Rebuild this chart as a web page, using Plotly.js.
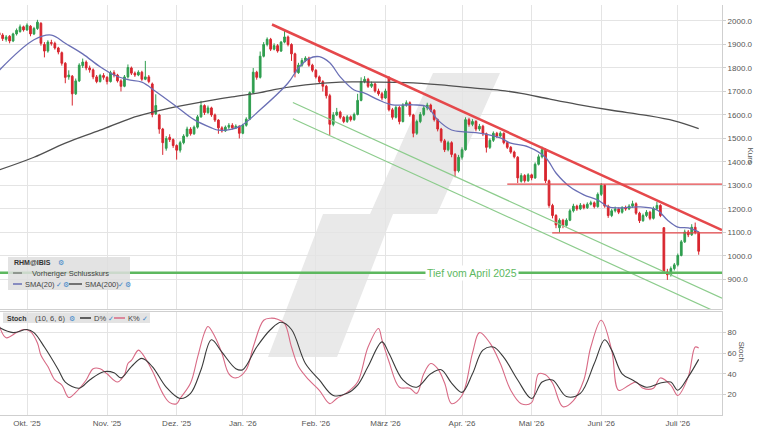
<!DOCTYPE html>
<html>
<head>
<meta charset="utf-8">
<script src="https://cdn.plot.ly/plotly-3.0.1.min.js"></script>
<style>
  html, body { margin: 0; padding: 0; background: #fff; }
  #chart { width: 768px; height: 432px; }
</style>
</head>
<body>
<div id="chart"></div>
<script>
// daily candles, index 0 = 19.09.2025 (Xetra trading days)
const open = [
  1950,1940,1922,1935,1915,1945,1955,1975,1962,1978,
  1945,1968,1990,1900,1872,1908,1905,1885,1865,1820,
  1762,1765,1690,1745,1810,1825,1800,1792,1762,1742,
  1768,1760,1742,1780,1770,1745,1722,1762,1800,1778,
  1770,1782,1752,1762,1732,1605,1600,1540,1458,1505,
  1495,1470,1450,1482,1510,1540,1520,1548,1592,1640,
  1610,1630,1600,1578,1545,1532,1548,1556,1545,1552,
  1522,1556,1582,1695,1782,1760,1850,1900,1922,1880,
  1895,1872,1910,1932,1900,1860,1780,1812,1832,1842,
  1812,1790,1762,1742,1722,1682,1560,1600,1612,1590,
  1572,1592,1580,1602,1662,1742,1752,1722,1732,1702,
  1690,1672,1760,1622,1590,1632,1572,1642,1652,1600,
  1522,1572,1602,1630,1642,1620,1580,1540,1490,1452,
  1482,1432,1362,1420,1452,1580,1560,1572,1540,1552,
  1520,1462,1492,1522,1510,1522,1482,1462,1442,1420,
  1318,1342,1320,1345,1332,1390,1422,1452,1320,1215,
  1172,1120,1152,1130,1152,1192,1212,1200,1216,1205,
  1220,1226,1210,1262,1300,1212,1172,1192,1200,1186,
  1205,1200,1212,1222,1182,1150,1172,1186,1160,1202,
  1215,1120,932,920,946,962,1002,1060,1102,1090,
  1122,1100
];
const close = [
  1940,1925,1932,1915,1945,1960,1975,1962,1982,1945,
  1968,1995,1905,1872,1910,1905,1885,1868,1820,1760,
  1770,1690,1745,1812,1825,1800,1792,1762,1742,1768,
  1760,1742,1780,1770,1745,1722,1762,1802,1778,1770,
  1782,1752,1762,1742,1602,1640,1540,1482,1500,1495,
  1470,1450,1482,1510,1540,1520,1548,1592,1640,1610,
  1630,1600,1578,1545,1532,1548,1556,1545,1552,1522,
  1556,1582,1695,1782,1760,1850,1900,1922,1880,1895,
  1872,1910,1932,1900,1860,1780,1812,1832,1842,1812,
  1790,1762,1742,1722,1682,1560,1600,1612,1590,1572,
  1592,1580,1602,1662,1742,1752,1722,1732,1702,1690,
  1672,1702,1622,1590,1632,1572,1642,1652,1600,1522,
  1572,1602,1630,1642,1620,1580,1540,1490,1452,1482,
  1432,1362,1420,1452,1580,1560,1572,1540,1552,1520,
  1462,1492,1522,1510,1522,1482,1462,1442,1422,1332,
  1342,1320,1345,1332,1390,1422,1452,1320,1215,1172,
  1132,1152,1130,1152,1192,1212,1200,1216,1205,1220,
  1226,1210,1262,1300,1212,1172,1192,1200,1186,1205,
  1200,1212,1222,1182,1150,1172,1186,1160,1202,1215,
  1172,932,920,946,962,1002,1060,1102,1090,1122,
  1100,1020
];
const high = [
  1962,1948,1940,1940,1950,1968,1985,1980,1990,1982,
  1975,2005,1995,1910,1918,1920,1912,1890,1870,1825,
  1790,1770,1755,1820,1840,1832,1810,1798,1770,1775,
  1778,1765,1788,1790,1775,1752,1770,1815,1806,1785,
  1790,1788,1830,1770,1738,1688,1605,1545,1510,1518,
  1500,1475,1490,1518,1550,1548,1555,1600,1660,1645,
  1640,1635,1606,1582,1552,1555,1565,1565,1560,1556,
  1562,1590,1700,1800,1788,1870,1910,1930,1928,1905,
  1902,1915,1960,1938,1905,1865,1822,1842,1850,1848,
  1818,1795,1768,1748,1728,1690,1612,1630,1618,1596,
  1600,1598,1610,1690,1760,1765,1758,1742,1738,1712,
  1698,1712,1765,1630,1640,1638,1650,1662,1658,1605,
  1580,1612,1640,1652,1648,1625,1585,1545,1498,1490,
  1488,1438,1430,1462,1590,1588,1582,1578,1562,1558,
  1525,1500,1530,1528,1530,1526,1488,1468,1448,1425,
  1352,1348,1352,1350,1398,1432,1465,1458,1325,1222,
  1178,1160,1158,1160,1200,1222,1218,1225,1222,1228,
  1235,1232,1270,1310,1305,1218,1200,1210,1206,1212,
  1214,1220,1235,1228,1188,1180,1195,1192,1210,1230,
  1220,1122,945,955,970,1010,1068,1112,1110,1135,
  1142,1105
];
const low = [
  1930,1915,1912,1905,1910,1938,1950,1955,1958,1935,
  1940,1962,1895,1845,1865,1895,1878,1858,1810,1735,
  1750,1640,1685,1740,1800,1790,1780,1752,1735,1738,
  1750,1730,1738,1760,1738,1700,1718,1755,1770,1762,
  1765,1745,1748,1735,1590,1600,1520,1430,1448,1485,
  1460,1410,1440,1475,1505,1512,1515,1542,1588,1600,
  1605,1592,1570,1520,1525,1528,1540,1538,1540,1500,
  1518,1550,1578,1690,1750,1755,1845,1892,1872,1875,
  1865,1868,1905,1892,1830,1760,1775,1805,1825,1805,
  1782,1755,1735,1700,1670,1515,1552,1595,1582,1565,
  1566,1572,1575,1598,1658,1735,1715,1715,1695,1682,
  1662,1668,1615,1580,1585,1560,1568,1635,1592,1505,
  1515,1565,1595,1620,1612,1572,1530,1482,1442,1445,
  1420,1335,1355,1410,1448,1550,1552,1530,1532,1510,
  1440,1455,1485,1502,1505,1475,1455,1435,1415,1310,
  1312,1312,1315,1322,1328,1385,1415,1310,1205,1160,
  1118,1100,1118,1125,1148,1185,1192,1195,1198,1200,
  1215,1202,1205,1255,1205,1162,1165,1185,1178,1180,
  1192,1195,1205,1175,1140,1145,1165,1152,1155,1195,
  1165,925,898,912,938,955,998,1055,1080,1085,
  1092,1005
];
const days = close.map((c, i) => i);

// moving averages (day index, value)
const sma20Idx = [0,10,15,19,24,29,33,37,41,45,51,56,61,63,69,75,83,86,89,92,95,98,102,105,109,113,119,123,126,130,134,138,144,147,152,157,160,164,168,172,175,178,184,189,192,195,198,201];
const sma20Val = [1790,1920,1940,1905,1860,1805,1770,1750,1740,1700,1635,1580,1545,1535,1550,1622,1736,1800,1840,1848,1822,1762,1706,1693,1664,1643,1643,1634,1579,1536,1528,1523,1502,1480,1464,1419,1353,1294,1260,1238,1209,1204,1209,1196,1153,1123,1119,1102];
const sma200Idx = [0,10,19,29,38,43,51,58,67,75,79,88,98,107,117,127,136,144,150,158,166,176,186,194,201];
const sma200Val = [1366,1420,1480,1535,1587,1608,1635,1655,1677,1695,1708,1728,1740,1740,1738,1728,1715,1705,1692,1668,1645,1620,1598,1575,1542];

// stochastic (10, 6, 6)
const kIdx = [0,2,5,7,9,11,12,14,16,18,20,22,25,27,29,31,34,36,37,38,40,41,44,47,49,51,52,55,57,59,60,62,64,66,68,71,73,76,78,80,82,84,86,89,92,95,97,100,103,106,109,110,112,115,118,120,122,124,126,128,130,133,136,138,141,144,147,150,153,155,157,159,162,165,168,170,173,176,178,181,183,185,188,190,193,195,198,200,201];
const kVal = [87,75,80,83,81,70,58,47,34,29,17,22,34,45,45,40,32,39,50,53,63,60,43,21,12,11,16,31,56,80,86,76,60,40,36,44,66,92,94,93,89,66,47,34,24,11,16,22,32,66,84,73,52,27,26,21,40,50,45,31,11,19,60,80,70,50,24,11,12,40,39,31,8,14,34,66,92,63,24,29,32,26,26,36,29,19,37,66,65];
const dIdx = [0,4,8,10,13,17,19,23,26,30,33,35,38,41,44,48,52,55,58,61,64,68,70,74,78,81,84,88,92,96,100,103,106,110,112,116,120,124,127,130,133,136,139,142,145,149,153,156,159,163,167,171,174,176,179,182,186,190,193,195,198,201];
const dVal = [85,80,83,80,66,44,32,26,34,42,41,36,47,55,47,27,16,21,44,73,61,45,44,66,83,90,83,50,34,19,21,29,47,71,60,34,27,40,44,31,22,40,63,66,56,34,16,32,34,18,21,50,73,63,40,34,27,31,32,24,37,54];

// drawn lines: trend, channel, support / resistance
const trendX = [78.4, 207.7];
const trendY = [1985, 1110];
const chanTopX = [84.4, 207.7];
const chanTopY = [1653, 820];
const chanLowX = [84.4, 207.7];
const chanLowY = [1584, 750];
const resist1300X = [146, 207.7];
const resist1300Y = [1306, 1306];
const resist1100X = [158.9, 207.7];
const resist1100Y = [1098, 1098];
const supportX = [-2, 210];
const supportY = [928, 928];

const monthIdx = [8, 31, 51, 70, 91, 111, 133, 153, 173, 195];
const monthText = ["Okt. '25", "Nov. '25", "Dez. '25", "Jan. '26", "Feb. '26", "März '26", "Apr. '26", "Mai '26", "Juni '26", "Juli '26"];
const priceTicks = [900, 1000, 1100, 1200, 1300, 1400, 1500, 1600, 1700, 1800, 1900, 2000];
const stochTicks = [20, 40, 60, 80];

// pixel -> paper helpers for the decorations
const W = 722, H = 410;
const px = x => x / W;
const py = y => (415 - y) / H;

const GREEN = '#2f9e4f', RED = '#d8262f';
const line = (x, y, color, width, xa, ya, shape) => ({
  type: 'scatter', mode: 'lines', x: x, y: y, xaxis: xa || 'x', yaxis: ya || 'y',
  line: {color: color, width: width, shape: shape || 'linear'}, hoverinfo: 'skip'
});

const data = [
  {
    type: 'candlestick', x: days, open: open, high: high, low: low, close: close,
    xaxis: 'x', yaxis: 'y', whiskerwidth: 0,
    increasing: {line: {color: GREEN, width: 1}, fillcolor: GREEN},
    decreasing: {line: {color: RED, width: 1}, fillcolor: RED},
    hoverinfo: 'skip'
  },
  line(sma200Idx, sma200Val, '#505050', 1.3, 'x', 'y', 'spline'),
  line(sma20Idx, sma20Val, '#6a6fb5', 1.3, 'x', 'y', 'spline'),
  line(chanTopX, chanTopY, '#8ccc8c', 1.2),
  line(chanLowX, chanLowY, '#8ccc8c', 1.2),
  line(resist1300X, resist1300Y, '#e3474a', 1.2),
  line(resist1100X, resist1100Y, '#e3474a', 1.2),
  line(supportX, supportY, '#5db85f', 2.5),
  line(trendX, trendY, '#e5484b', 2.5),
  line(kIdx, kVal, '#d86a85', 1.1, 'x2', 'y2', 'spline'),
  line(dIdx, dVal, '#3a3a3a', 1.1, 'x2', 'y2', 'spline')
];

const wm = [[433,73],[500,73],[437,214],[393,214],[337,357],[268,357],[323,214],[370,214]];
const wmPath = 'M ' + wm.map(p => px(p[0]).toFixed(4) + ',' + py(p[1]).toFixed(4)).join(' L ') + ' Z';

const seg = (x0, x1, y, color, width, dash) => ({
  type: 'line', xref: 'paper', yref: 'paper', x0: px(x0), x1: px(x1), y0: py(y), y1: py(y),
  line: {color: color, width: width, dash: dash || 'solid'}
});
const box = (x0, y0, x1, y1) => ({
  type: 'rect', xref: 'paper', yref: 'paper', x0: px(x0), x1: px(x1), y0: py(y1), y1: py(y0),
  fillcolor: 'rgba(222,222,222,0.85)', line: {width: 0}
});

const shapes = [
  {type: 'path', xref: 'paper', yref: 'paper', path: wmPath, fillcolor: '#e9e9e9', line: {width: 0}, layer: 'below'},
  box(8, 257, 130, 290),
  seg(13, 28, 273, '#555', 1, 'dash'),
  seg(13, 22, 284, '#6a6fb5', 1.5),
  seg(69, 82, 284, '#4d4d4d', 1.5),
  box(3, 312.5, 150, 323),
  seg(80, 91, 318, '#333', 1.5),
  seg(114, 125, 318, '#d86a85', 1.5)
];

const lab = (x, y, text, color, size) => ({
  xref: 'paper', yref: 'paper', x: px(x), y: py(y), text: text, showarrow: false,
  xanchor: 'left', yanchor: 'middle', font: {size: size || 7.5, color: color || '#333'}
});
const BLUE = '#3f86c8';
const annotations = [
  {xref: 'x', yref: 'y', x: 135.9, y: 928, text: 'Tief vom April 2025', showarrow: false,
   bgcolor: '#fff', borderpad: 1, font: {size: 10.5, color: '#5db85f'}},
  lab(12, 262, '<b>RHM@IBIS</b>', '#333', 7),
  lab(56, 262, '⚙', BLUE, 7),
  lab(30, 273, 'Vorheriger Schlusskurs', '#444'),
  lab(23, 284, 'SMA(20)', '#444'),
  lab(54, 284, '✓', BLUE, 7),
  lab(61, 284, '⚙', BLUE, 7),
  lab(83, 284, 'SMA(200)', '#444'),
  lab(116, 284, '✓', BLUE, 7),
  lab(123, 284, '⚙', BLUE, 7),
  lab(5, 318, '<b>Stoch</b>', '#333', 7),
  lab(33, 318, '(10, 6, 6)', '#444'),
  lab(67, 318, '⚙', BLUE, 7),
  lab(92, 318, 'D%', '#444'),
  lab(106, 318, '✓', BLUE, 7),
  lab(126, 318, 'K%', '#444'),
  lab(140, 318, '✓', BLUE, 7),
  {xref: 'paper', yref: 'paper', x: px(757), y: py(155), text: 'Kurs', textangle: 90, showarrow: false,
   font: {size: 8, color: '#555'}},
  {xref: 'paper', yref: 'paper', x: px(748), y: py(363), text: 'Stoch', textangle: 90, showarrow: false,
   font: {size: 8, color: '#555'}}
];

const GRID = '#e4e4e4', AXLINE = '#cfcfcf';
const layout = {
  width: 768, height: 432,
  margin: {l: 0, r: 46, t: 5, b: 17},
  paper_bgcolor: '#fff', plot_bgcolor: 'rgba(0,0,0,0)',
  font: {family: 'Liberation Sans, Arial, sans-serif', color: '#555'},
  showlegend: false, hovermode: false, dragmode: false,
  xaxis: {
    domain: [0, 1], anchor: 'y', range: [0.24, 207.7],
    tickvals: monthIdx, showticklabels: false, ticks: '',
    showgrid: true, gridcolor: GRID, zeroline: false,
    showline: true, linecolor: AXLINE, rangeslider: {visible: false}
  },
  yaxis: {
    domain: [0.2585, 1], anchor: 'x', side: 'right', range: [774, 2068],
    tickvals: priceTicks, tickformat: '.1f', ticks: 'outside', ticklen: 3, tickcolor: AXLINE,
    tickfont: {size: 8, color: '#555'}, showgrid: true, gridcolor: GRID, zeroline: false,
    showline: true, linecolor: AXLINE
  },
  xaxis2: {
    domain: [0, 1], anchor: 'y2', matches: 'x', range: [0.24, 207.7],
    tickvals: monthIdx, ticktext: monthText, ticks: '',
    tickfont: {size: 8, color: '#555'}, showgrid: true, gridcolor: GRID, zeroline: false,
    showline: true, mirror: true, linecolor: AXLINE
  },
  yaxis2: {
    domain: [0, 0.2512], anchor: 'x2', side: 'right', range: [0, 100],
    tickvals: stochTicks, ticks: 'outside', ticklen: 3, tickcolor: AXLINE,
    tickfont: {size: 8, color: '#555'}, showgrid: true, gridcolor: GRID, zeroline: false,
    showline: true, linecolor: AXLINE
  },
  shapes: shapes,
  annotations: annotations
};

Plotly.newPlot('chart', data, layout, {staticPlot: true, displayModeBar: false});
</script>
</body>
</html>
